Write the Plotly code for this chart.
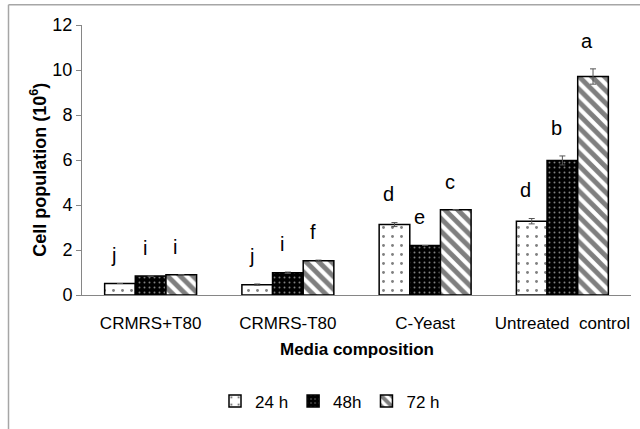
import plotly.graph_objects as go

categories = ["CRMRS+T80", "CRMRS-T80", "C-Yeast", "Untreated\u00a0 control"]
series_names = ["24 h", "48h", "72 h"]
values_24h = [0.51, 0.46, 3.13, 3.28]
values_48h = [0.84, 0.99, 2.20, 5.98]
values_72h = [0.90, 1.52, 3.79, 9.71]
err_24h = [0.0, 0.03, 0.09, 0.12]
err_48h = [0.0, 0.03, 0.0, 0.20]
err_72h = [0.0, 0.03, 0.0, 0.34]
letters_24h = ["j", "j", "d", "d"]
letters_48h = ["i", "i", "e", "b"]
letters_72h = ["i", "f", "c", "a"]
y_ticks = [0, 2, 4, 6, 8, 10, 12]

FONT = "Liberation Sans"

# plot-area geometry in page pixels
PX0, PX1, PY0, PY1 = 82, 631, 299, 25
def px(x):
    return (x - PX0) / (PX1 - PX0)
def py(y):
    return (PY0 - y) / (PY0 - PY1)

patterns = [
    dict(shape=".", fgcolor="#000000", bgcolor="#ffffff", size=9, solidity=0.08),
    dict(shape=".", fgcolor="#ffffff", bgcolor="#000000", size=5, solidity=0.12),
    dict(shape="\\", fgcolor="#000000", bgcolor="#ffffff", size=9, solidity=0.55),
]

fig = go.Figure()
series = [values_24h, values_48h, values_72h]
errs = [err_24h, err_48h, err_72h]
letters = [letters_24h, letters_48h, letters_72h]

for i in range(3):
    fig.add_trace(go.Bar(
        x=categories, y=series[i], name=series_names[i],
        marker=dict(color="#ffffff", pattern=patterns[i],
                    line=dict(color="#000000", width=1.5)),
        error_y=dict(type="data", array=errs[i], visible=True,
                     color="#555555", thickness=1, width=3),
        offsetgroup=str(i),
    ))

# significance letters
for i in range(3):
    for j, cat in enumerate(categories):
        fig.add_annotation(
            x=cat, y=series[i][j] + errs[i][j] + 1.25, xref="x", yref="y",
            text=letters[i][j], showarrow=False,
            font=dict(family=FONT, size=20, color="#000000"),
            xshift=(i - 1) * 30.7 - 6, yanchor="middle",
        )

# axis titles
fig.add_annotation(x=px(357), y=py(354), xref="paper", yref="paper",
                   text="<b>Media composition</b>", showarrow=False,
                   font=dict(family=FONT, size=17, color="#000000"),
                   xanchor="center", yanchor="middle")
fig.add_annotation(x=px(39), y=py(172), xref="paper", yref="paper",
                   text="<b>Cell population (10<sup>6</sup>)</b>", showarrow=False, textangle=-90,
                   font=dict(family=FONT, size=18, color="#000000"),
                   xanchor="center", yanchor="middle")

# outer frame lines
fig.add_shape(type="line", xref="paper", yref="paper",
              x0=px(8.5), x1=px(660), y0=py(4.5), y1=py(4.5),
              line=dict(color="#a6a6a6", width=1.5))
fig.add_shape(type="line", xref="paper", yref="paper",
              x0=px(8.5), x1=px(8.5), y0=py(4.5), y1=py(460),
              line=dict(color="#a6a6a6", width=1.5))

fig.update_layout(
    width=640, height=429,
    margin=dict(l=PX0, r=640 - PX1, t=PY1, b=429 - PY0),
    paper_bgcolor="#ffffff", plot_bgcolor="#ffffff",
    barmode="group", bargap=0.33, bargroupgap=0,
    font=dict(family=FONT, size=17, color="#000000"),
    showlegend=True,
    legend=dict(orientation="h", x=px(330), y=py(407),
                xanchor="center", yanchor="middle",
                font=dict(family=FONT, size=17, color="#000000"),
                itemwidth=30, tracegroupgap=0, bgcolor="rgba(0,0,0,0)"),
    xaxis=dict(showline=True, linecolor="#868686", linewidth=1, ticks="",
               showgrid=False, zeroline=False, ticklabelstandoff=13,
               tickfont=dict(family=FONT, size=17, color="#000000")),
    yaxis=dict(range=[0, 12], tickvals=y_ticks, showline=True, linecolor="#868686",
               linewidth=1, ticks="outside", ticklen=5, tickcolor="#868686",
               showgrid=False, zeroline=False,
               tickfont=dict(family=FONT, size=18, color="#000000")),
)

fig.write_html(
    "out.html",
    config={"displayModeBar": False},
    post_script="document.body.style.margin='0';document.body.style.overflow='hidden';",
)
